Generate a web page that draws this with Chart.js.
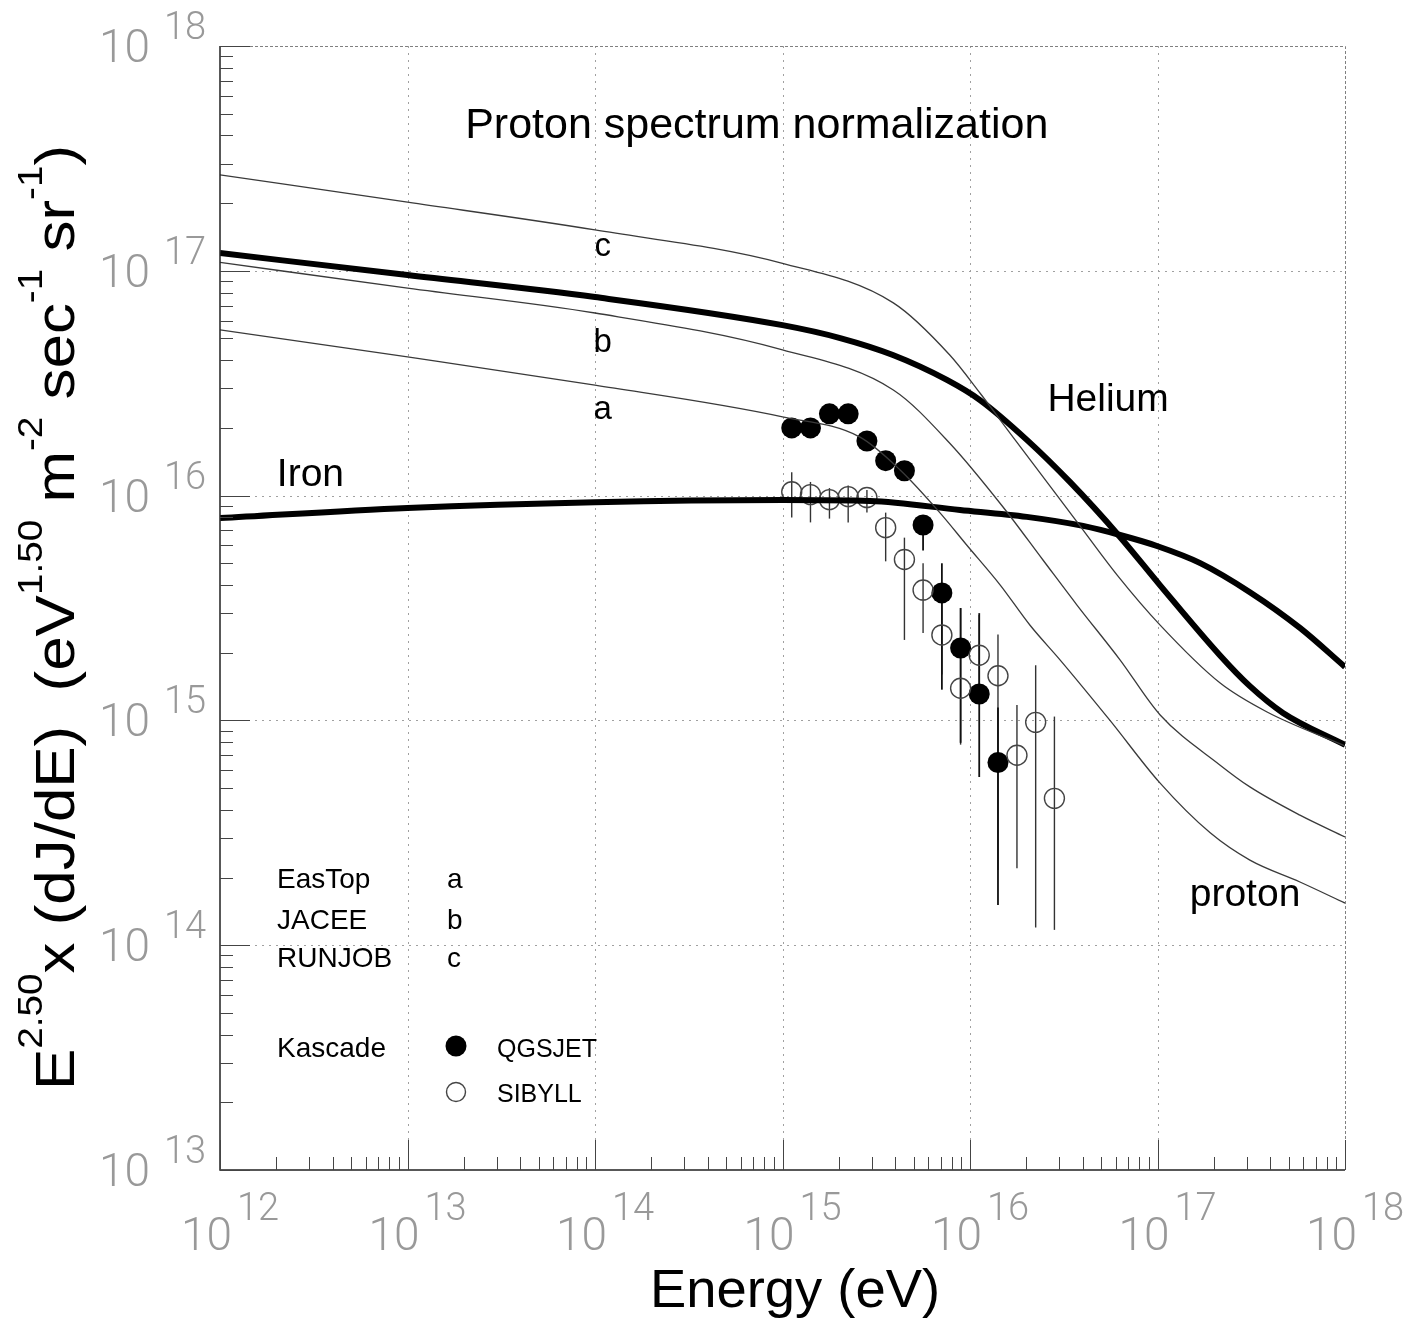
<!DOCTYPE html>
<html>
<head>
<meta charset="utf-8">
<title>Proton spectrum normalization</title>
<script src="https://cdn.jsdelivr.net/npm/chart.js@4.4.1/dist/chart.umd.min.js"></script>
<style>
  html, body { margin: 0; padding: 0; background: #fff; }
  #wrap { width: 1414px; height: 1321px; }
</style>
</head>
<body>
<div id="wrap"><canvas id="spectrum" width="1414" height="1321"></canvas></div>
<script>
// --- datos: E (eV) y E^2.5 dJ/dE ---
const xTickValues = [1e12, 1e13, 1e14, 1e15, 1e16, 1e17, 1e18];
const xTickExps = ['12', '13', '14', '15', '16', '17', '18'];
const yTickValues = [1e13, 1e14, 1e15, 1e16, 1e17, 1e18];
const yTickExps = ['13', '14', '15', '16', '17', '18'];

// proton, normalizacion a (EasTop)
const protonAE = [1e12, 1e13, 1e14, 1e15, 2.59e15, 4.24e15, 6.92e15, 9.6e15, 1.45e16, 2.09e16, 3.02e16, 5.58e16, 1.03e17, 1.91e17, 3.11e17, 5.75e17, 1e18];
const protonAV = [5.46e16, 4.14e16, 3.10e16, 2.24e16, 1.82e16, 1.30e16, 8.38e15, 6.03e15, 4.0e15, 2.65e15, 1.86e15, 1.0e15, 5.27e14, 3.16e14, 2.39e14, 1.91e14, 1.54e14];
// proton, normalizacion b (JACEE)
const protonBE = [1e12, 1e13, 1e14, 1e15, 3.9e15, 7.8e15, 1.5e16, 2.45e16, 3.72e16, 6.31e16, 1.03e17, 2.15e17, 3.11e17, 5.75e17, 1e18];
const protonBV = [1.09e17, 8.37e16, 6.49e16, 4.45e16, 2.95e16, 1.71e16, 8.9e15, 5.17e15, 3.26e15, 1.86e15, 1.06e15, 6.34e14, 5.06e14, 3.79e14, 3.03e14];
// proton, normalizacion c (RUNJOB)
const protonCE = [1e12, 1e13, 1e14, 1e15, 3.9e15, 7.8e15, 1.13e16, 1.74e16, 3.72e16, 6.08e16, 1.03e17, 2.15e17, 3.84e17, 1e18];
const protonCV = [2.67e17, 2.02e17, 1.52e17, 1.08e17, 7.2e16, 4.22e16, 2.86e16, 1.77e16, 7.64e15, 4.44e15, 2.66e15, 1.47e15, 1.09e15, 7.7e14];
// helio y hierro (lineas gruesas)
const heliumE = [1e12, 1e13, 1e14, 1e15, 2.03e15, 3.88e15, 7.53e15, 1.13e16, 2.01e16, 3.41e16, 6.31e16, 1.03e17, 2.15e17, 3.11e17, 4.67e17, 1e18];
const heliumV = [1.20e17, 9.57e16, 7.64e16, 5.73e16, 5.02e16, 4.22e16, 3.27e16, 2.66e16, 1.77e16, 1.15e16, 6.55e15, 4.0e15, 1.95e15, 1.42e15, 1.08e15, 7.78e14];
const ironE = [1e12, 1e13, 1e14, 1e15, 2.93e15, 8.85e15, 2.01e16, 4.01e16, 6.31e16, 9.93e16, 1.69e17, 3.11e17, 5.75e17, 1e18];
const ironV = [7.94e15, 8.81e15, 9.35e15, 9.55e15, 9.46e15, 8.63e15, 8.04e15, 7.33e15, 6.68e15, 5.97e15, 5.01e15, 3.72e15, 2.58e15, 1.73e15];

// Kascade
const kascadeE = [1.12e15, 1.41e15, 1.78e15, 2.24e15, 2.82e15, 3.55e15, 4.47e15, 5.62e15, 7.08e15, 8.91e15, 1.12e16, 1.41e16, 1.78e16, 2.24e16, 2.82e16];
const qgsjetV = [2.00e16, 2.00e16, 2.31e16, 2.31e16, 1.75e16, 1.43e16, 1.29e16, 7.4e15, 3.69e15, 2.10e15, 1.31e15, 6.5e14];
const qgsjetLo = [null, null, null, null, null, null, null, 5.7e15, 1.37e15, 7.95e14, 5.6e14, 1.51e14];
const qgsjetHi = [null, null, null, null, null, null, null, 8.0e15, 5.0e15, 3.16e15, 3.0e15, 1.14e15];
const sibyllV = [1.04e16, 1.01e16, 9.6e15, 9.9e15, 9.8e15, 7.2e15, 5.2e15, 3.8e15, 2.4e15, 1.39e15, 1.95e15, 1.58e15, 7.0e14, 9.8e14, 4.5e14];
const sibyllLo = [8.0e15, 7.6e15, 7.9e15, 7.6e15, 8.4e15, 5.1e15, 2.28e15, 2.45e15, 1.6e15, 7.8e14, 1.3e15, 2.16e14, 2.2e14, 1.2e14, 1.17e14];
const sibyllHi = [1.27e16, 1.15e16, 1.08e16, 1.11e16, 1.06e16, 8.4e15, 6.5e15, 5.0e15, 3.4e15, 3.16e15, 2.94e15, 2.41e15, 1.17e15, 1.76e15, 1.04e15];

// textos dentro del grafico (anclados en coordenadas de datos)
const notes = [
  { text: 'Proton spectrum normalization', e: 2.03e13, v: 3.9e17, size: 43, align: 'left' },
  { text: 'c', e: 1.1e14, v: 1.16e17, size: 33, align: 'center' },
  { text: 'b', e: 1.1e14, v: 4.36e16, size: 33, align: 'center' },
  { text: 'a', e: 1.1e14, v: 2.19e16, size: 33, align: 'center' },
  { text: 'Helium', e: 5.45e16, v: 2.38e16, size: 39, align: 'center' },
  { text: 'Iron', e: 2.01e12, v: 1.10e16, size: 39, align: 'left' },
  { text: 'proton', e: 2.93e17, v: 1.49e14, size: 39, align: 'center' }
];

const SANS = '"Liberation Sans", Arial, Helvetica, sans-serif';
const TICKFONT = 'Roboto, "DejaVu Sans", sans-serif';

const pairs = (xs, ys) => ys.map((v, i) => ({ x: xs[i], y: v }));

function drawRich(ctx, parts, x, y, o) {
  const big = `${o.size}px ${SANS}`;
  const small = `${Math.round(o.size * 0.62)}px ${SANS}`;
  let total = 0;
  parts.forEach(p => { ctx.font = p.sup ? small : big; total += ctx.measureText(p.t).width; });
  const k = o.length ? o.length / total : 1;
  ctx.save();
  ctx.translate(x, y);
  if (o.rotate) ctx.rotate(o.rotate);
  ctx.scale(k, 1);
  ctx.textAlign = 'left';
  ctx.textBaseline = 'alphabetic';
  let cx = o.center ? -total / 2 : 0;
  parts.forEach(p => {
    ctx.font = p.sup ? small : big;
    ctx.fillText(p.t, cx, p.sup ? -o.size * 0.58 : 0);
    cx += ctx.measureText(p.t).width;
  });
  ctx.restore();
}

function drawBars(ctx, xScale, yScale, es, lo, hi, width, color) {
  ctx.strokeStyle = color;
  ctx.lineWidth = width;
  lo.forEach((l, i) => {
    if (l === null || hi[i] === null) return;
    const px = xScale.getPixelForValue(es[i]);
    ctx.beginPath();
    ctx.moveTo(px, yScale.getPixelForValue(hi[i]));
    ctx.lineTo(px, yScale.getPixelForValue(l));
    ctx.stroke();
  });
}

const decor = {
  id: 'decor',
  beforeDatasetsDraw(chart) {
    const { ctx, chartArea: a, scales: { x, y } } = chart;
    ctx.save();
    // rejilla punteada en las decadas
    ctx.strokeStyle = '#a0a0a0';
    ctx.lineWidth = 1;
    ctx.setLineDash([2, 5]);
    xTickValues.slice(1, -1).forEach(v => {
      const px = Math.round(x.getPixelForValue(v)) + 0.5;
      ctx.beginPath(); ctx.moveTo(px, a.top); ctx.lineTo(px, a.bottom); ctx.stroke();
    });
    yTickValues.slice(1, -1).forEach(v => {
      const py = Math.round(y.getPixelForValue(v)) + 0.5;
      ctx.beginPath(); ctx.moveTo(a.left, py); ctx.lineTo(a.right, py); ctx.stroke();
    });
    // borde superior y derecho
    ctx.strokeStyle = '#808080';
    ctx.setLineDash([3, 2]);
    ctx.beginPath();
    ctx.moveTo(a.left, Math.round(a.top) + 0.5);
    ctx.lineTo(Math.round(a.right) + 0.5, Math.round(a.top) + 0.5);
    ctx.lineTo(Math.round(a.right) + 0.5, a.bottom);
    ctx.stroke();
    ctx.setLineDash([]);
    // barras de error
    drawBars(ctx, x, y, kascadeE, sibyllLo, sibyllHi, 1.4, '#333');
    drawBars(ctx, x, y, kascadeE, qgsjetLo, qgsjetHi, 1.8, '#111');
    ctx.restore();
  },
  afterDraw(chart) {
    const { ctx, chartArea: a, scales: { x, y } } = chart;
    ctx.save();
    // ejes izquierdo e inferior con marcas hacia dentro
    ctx.strokeStyle = '#222';
    ctx.lineWidth = 1.5;
    ctx.beginPath();
    ctx.moveTo(a.left, a.top); ctx.lineTo(a.left, a.bottom); ctx.lineTo(a.right, a.bottom);
    ctx.stroke();
    ctx.lineWidth = 1;
    ctx.strokeStyle = '#444';
    xTickValues.forEach((v, i) => {
      const px = Math.round(x.getPixelForValue(v)) + 0.5;
      ctx.beginPath(); ctx.moveTo(px, a.bottom); ctx.lineTo(px, a.bottom - 30); ctx.stroke();
      if (i === xTickValues.length - 1) return;
      for (let k = 2; k <= 9; k++) {
        const mx = Math.round(x.getPixelForValue(v * k)) + 0.5;
        ctx.beginPath(); ctx.moveTo(mx, a.bottom); ctx.lineTo(mx, a.bottom - 13); ctx.stroke();
      }
    });
    yTickValues.forEach((v, i) => {
      const py = Math.round(y.getPixelForValue(v)) + 0.5;
      ctx.beginPath(); ctx.moveTo(a.left, py); ctx.lineTo(a.left + 30, py); ctx.stroke();
      if (i === yTickValues.length - 1) return;
      for (let k = 2; k <= 9; k++) {
        const my = Math.round(y.getPixelForValue(v * k)) + 0.5;
        ctx.beginPath(); ctx.moveTo(a.left, my); ctx.lineTo(a.left + 13, my); ctx.stroke();
      }
    });

    // etiquetas de las marcas: 10 con exponente
    ctx.fillStyle = '#999';
    ctx.textBaseline = 'alphabetic';
    xTickValues.forEach((v, i) => {
      const px = x.getPixelForValue(v);
      ctx.font = `300 46px ${TICKFONT}`;
      ctx.textAlign = 'right';
      ctx.fillText('10', px + 12, a.bottom + 80);
      ctx.font = `300 38px ${TICKFONT}`;
      ctx.textAlign = 'left';
      ctx.fillText(xTickExps[i], px + 17, a.bottom + 50);
    });
    yTickValues.forEach((v, i) => {
      const py = y.getPixelForValue(v);
      ctx.font = `300 46px ${TICKFONT}`;
      ctx.textAlign = 'right';
      ctx.fillText('10', a.left - 70, py + 16);
      ctx.font = `300 38px ${TICKFONT}`;
      ctx.textAlign = 'left';
      ctx.fillText(yTickExps[i], a.left - 56, py - 7);
    });

    // titulos de los ejes
    ctx.fillStyle = '#000';
    drawRich(ctx, [{ t: 'Energy (eV)' }], a.left + 575, a.bottom + 137, { size: 54, length: 290, center: true });
    drawRich(ctx, [
      { t: 'E' }, { t: '2.50', sup: true }, { t: 'x (dJ/dE)  (eV' }, { t: '1.50', sup: true },
      { t: ' m' }, { t: '-2', sup: true }, { t: ' sec' }, { t: '-1', sup: true },
      { t: ' sr' }, { t: '-1', sup: true }, { t: ')' }
    ], 74, 1090, { size: 56, length: 945, rotate: -Math.PI / 2 });

    // textos dentro del grafico
    notes.forEach(n => {
      ctx.font = `${n.size}px ${SANS}`;
      ctx.textAlign = n.align;
      ctx.fillText(n.text, x.getPixelForValue(n.e), y.getPixelForValue(n.v));
    });

    // leyenda
    const lx = a.left + 57;
    ctx.textAlign = 'left';
    ctx.font = `28px ${SANS}`;
    ctx.fillText('EasTop', lx, 888);
    ctx.fillText('JACEE', lx, 929);
    ctx.fillText('RUNJOB', lx, 967);
    ctx.fillText('Kascade', lx, 1057);
    ctx.fillText('a', lx + 170, 888);
    ctx.fillText('b', lx + 170, 929);
    ctx.fillText('c', lx + 170, 967);
    ctx.font = `25px ${SANS}`;
    ctx.fillText('QGSJET', lx + 220, 1057);
    ctx.fillText('SIBYLL', lx + 220, 1102);
    ctx.beginPath();
    ctx.arc(lx + 179, 1046, 10.5, 0, Math.PI * 2);
    ctx.fill();
    ctx.strokeStyle = '#444';
    ctx.lineWidth = 1.4;
    ctx.beginPath();
    ctx.arc(lx + 179, 1092, 9.5, 0, Math.PI * 2);
    ctx.stroke();
    ctx.restore();
  }
};

const thin = { showLine: true, pointRadius: 0, borderColor: '#3a3a3a', borderWidth: 1.3, cubicInterpolationMode: 'monotone' };
const thick = { showLine: true, pointRadius: 0, borderColor: '#000', borderWidth: 6, cubicInterpolationMode: 'monotone' };

new Chart(document.getElementById('spectrum'), {
  type: 'scatter',
  data: {
    datasets: [
      { label: 'a', data: pairs(protonAE, protonAV), ...thin },
      { label: 'b', data: pairs(protonBE, protonBV), ...thin },
      { label: 'c', data: pairs(protonCE, protonCV), ...thin },
      { label: 'Helium', data: pairs(heliumE, heliumV), ...thick },
      { label: 'Iron', data: pairs(ironE, ironV), ...thick },
      { label: 'SIBYLL', data: pairs(kascadeE, sibyllV), showLine: false, pointStyle: 'circle', pointRadius: 10, backgroundColor: 'rgba(0,0,0,0)', borderColor: '#444', borderWidth: 1.4 },
      { label: 'QGSJET', data: pairs(kascadeE, qgsjetV), showLine: false, pointStyle: 'circle', pointRadius: 10.5, backgroundColor: '#000', borderColor: '#000', borderWidth: 0 }
    ]
  },
  options: {
    responsive: false,
    animation: false,
    devicePixelRatio: 1,
    events: [],
    layout: { padding: { left: 220, right: 69, top: 46, bottom: 151 } },
    plugins: { legend: { display: false }, tooltip: { enabled: false } },
    scales: {
      x: { type: 'logarithmic', min: 1e12, max: 1e18, display: false },
      y: { type: 'logarithmic', min: 1e13, max: 1e18, display: false }
    }
  },
  plugins: [decor]
});
</script>
</body>
</html>
